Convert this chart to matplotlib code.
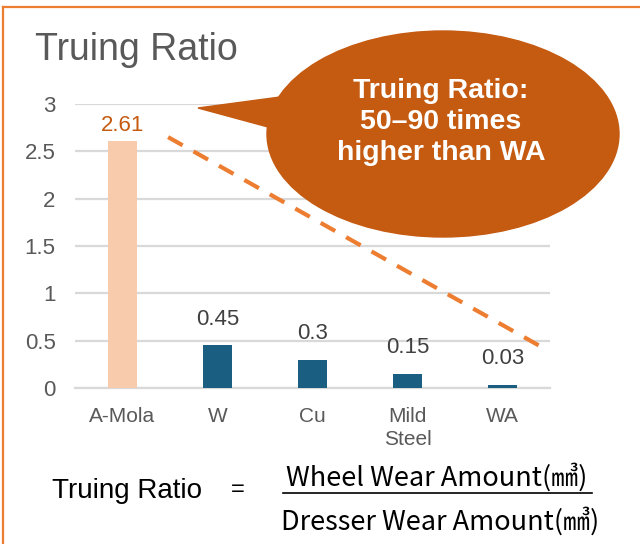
import numpy as np
import matplotlib.pyplot as plt
from matplotlib.patches import Ellipse, Polygon
from matplotlib.lines import Line2D

# ── Data ──────────────────────────────────────────────────
categories = ["A-Mola", "W", "Cu", "Mild\nSteel", "WA"]
ratios     = [2.61, 0.45, 0.30, 0.15, 0.03]
labels     = ["2.61", "0.45", "0.3", "0.15", "0.03"]
y_ticks    = [0, 0.5, 1, 1.5, 2, 2.5, 3]
tick_text  = ["0", "0.5", "1", "1.5", "2", "2.5", "3"]

# dashed guide (data coords)
trend_x = [0.48, 4.47]
trend_y = [2.65, 0.40]

# ── Colours ───────────────────────────────────────────────
PEACH  = "#F8CBAD"
NAVY   = "#1A5E82"
RUST   = "#C55A11"
ORANGE = "#ED7D31"
GRID   = "#D9D9D9"
TEXT   = "#595959"

W, H = 640, 544
fig = plt.figure(figsize=(W / 100, H / 100), dpi=100, facecolor="white")

# ── Bar chart ─────────────────────────────────────────────
ax = fig.add_axes([75 / W, 1 - 388 / H, 475 / W, 284 / H])
x = np.arange(len(categories))
colors = [PEACH] + [NAVY] * (len(categories) - 1)
ax.bar(x, ratios, width=0.31, color=colors, zorder=3)
ax.set_xlim(-0.5, len(categories) - 0.5)
ax.set_ylim(0, 3)
ax.set_yticks(y_ticks)
ax.set_yticklabels(tick_text, fontsize=16, color=TEXT, family="Liberation Sans")
ax.set_xticks(x)
ax.set_xticklabels(categories, fontsize=15, color=TEXT, family="Liberation Sans",
                   linespacing=1.25)
ax.tick_params(axis="x", length=0, pad=14)
ax.tick_params(axis="y", length=0, pad=14)
ax.grid(axis="y", color=GRID, lw=1.6, zorder=0)
for s in ["top", "right", "left"]:
    ax.spines[s].set_visible(False)
ax.spines["bottom"].set_color(GRID)
ax.spines["bottom"].set_linewidth(1.6)

for i, (v, t) in enumerate(zip(ratios, labels)):
    off = 11 if i == 0 else 19
    ax.annotate(t, (i, v), xytext=(0, off), textcoords="offset points",
                ha="center", va="center", fontsize=16,
                color=RUST if i == 0 else "#404040", family="Liberation Sans")

ax.plot(trend_x, trend_y, color=ORANGE, lw=3, ls=(0, (4, 3)),
        clip_on=False, zorder=4)

# ── Overlay in pixel coords ───────────────────────────────
ov = fig.add_axes([0, 0, 1, 1], facecolor="none")
ov.set_xlim(0, W)
ov.set_ylim(H, 0)
ov.axis("off")

# frame (top + left)
ov.add_line(Line2D([3, W], [7, 7], color=ORANGE, lw=1.6))
ov.add_line(Line2D([3, 3], [7, H], color=ORANGE, lw=1.6))

ov.text(35, 50, "Truing Ratio", fontsize=27, color=TEXT, va="center",
        family="Liberation Sans")

# callout bubble
ov.add_patch(Ellipse((443, 134), 352, 206, color=RUST, zorder=5))
ov.add_patch(Polygon([(198, 108), (280, 97), (268, 127)], color=RUST, zorder=5))
ov.text(441, 122, "Truing Ratio:\n50–90 times\nhigher than WA", color="white",
        fontsize=20.5, fontweight="bold", ha="center", va="center",
        linespacing=1.25, family="Liberation Sans", zorder=6)

# formula
ov.text(52, 498, "Truing Ratio", fontsize=20, color="black", va="baseline",
        family="Liberation Sans")
ov.text(238, 490, "=", fontsize=17, color="black", va="center", ha="center",
        family="Liberation Sans")
ov.add_line(Line2D([283, 592], [493, 493], color="black", lw=1.2))
ov.text(437, 486, "Wheel Wear Amount(㎣)", fontsize=19.5, color="black",
        ha="center", va="baseline", family=["Noto Sans CJK KR"])
ov.text(440, 530, "Dresser Wear Amount(㎣)", fontsize=19.5, color="black",
        ha="center", va="baseline", family=["Noto Sans CJK KR"])

fig.savefig("out.png", dpi=100, facecolor="white")
